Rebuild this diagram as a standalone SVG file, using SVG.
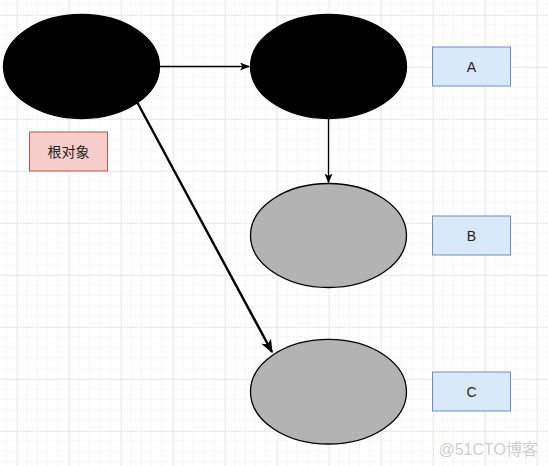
<svg xmlns="http://www.w3.org/2000/svg" width="548" height="466" viewBox="0 0 548 466">
<style>
.obj{stroke:#000;stroke-width:1.3}
.black{fill:#000}
.gray{fill:#b3b3b3}
.lbl{fill:#dae8fc;stroke:#6c8ebf;stroke-width:1}
.root{fill:#f8cecc;stroke:#b85450;stroke-width:1}
.t{font-family:"Liberation Sans","Noto Sans CJK SC",sans-serif;font-size:14px;fill:#222;text-anchor:middle;dominant-baseline:central}
.edge{fill:none;stroke:#000}
</style>
<defs>
<pattern id="minor" x="17" y="15" width="10.4" height="10.4" patternUnits="userSpaceOnUse">
<path d="M10.4 0V10.4M0 10.4H10.4" fill="none" stroke="#f0f0f0" stroke-width="1"/>
</pattern>
<pattern id="major" x="17" y="15" width="52" height="52" patternUnits="userSpaceOnUse">
<path d="M0 0V52M0 0H52" fill="none" stroke="#dcdcdc" stroke-width="1"/>
</pattern>
<marker id="ah" viewBox="0 0 10 8" refX="9" refY="4" markerWidth="10" markerHeight="8" markerUnits="userSpaceOnUse" orient="auto">
<path d="M0 0L10 4L0 8L2.5 4Z" fill="#000"/>
</marker>
<marker id="ahb" viewBox="0 0 10 8" refX="9" refY="4" markerWidth="14" markerHeight="11" markerUnits="userSpaceOnUse" orient="auto">
<path d="M0 0L10 4L0 8L2.5 4Z" fill="#000"/>
</marker>
</defs>
<rect width="548" height="466" fill="#fff"/>
<rect width="548" height="466" fill="url(#minor)"/>
<rect width="548" height="466" fill="url(#major)"/>

<g id="connectors">
<path class="edge" stroke-width="1.3" d="M160 66.5H249" marker-end="url(#ah)"/>
<path class="edge" stroke-width="1.3" d="M328.5 119V182.5" marker-end="url(#ah)"/>
<path class="edge" stroke-width="2.4" d="M136 100L272 352" marker-end="url(#ahb)"/>
</g>

<g id="root-obj"><ellipse class="obj black" cx="81.5" cy="66.5" rx="78" ry="52"/></g>
<g id="obj-a"><ellipse class="obj black" cx="328.5" cy="66.5" rx="78" ry="52"/></g>
<g id="obj-b"><ellipse class="obj gray" cx="328.5" cy="235.5" rx="78" ry="52"/></g>
<g id="obj-c"><ellipse class="obj gray" cx="328.5" cy="391.7" rx="78" ry="52.3"/></g>

<g id="label-root"><rect class="root" x="29.5" y="132" width="78" height="39"/><text class="t" x="68.5" y="152">根对象</text></g>
<g id="label-a"><rect class="lbl" x="432.5" y="47" width="78" height="39"/><text class="t" x="471.5" y="67">A</text></g>
<g id="label-b"><rect class="lbl" x="432.5" y="216" width="78" height="39"/><text class="t" x="471.5" y="236">B</text></g>
<g id="label-c"><rect class="lbl" x="432.5" y="372" width="78" height="39"/><text class="t" x="471.5" y="392">C</text></g>

<text x="538" y="449" font-family="'Liberation Sans','Noto Sans CJK SC',sans-serif" font-size="16" fill="#cfcfcf" text-anchor="end" dominant-baseline="central">@51CTO博客</text>
</svg>
